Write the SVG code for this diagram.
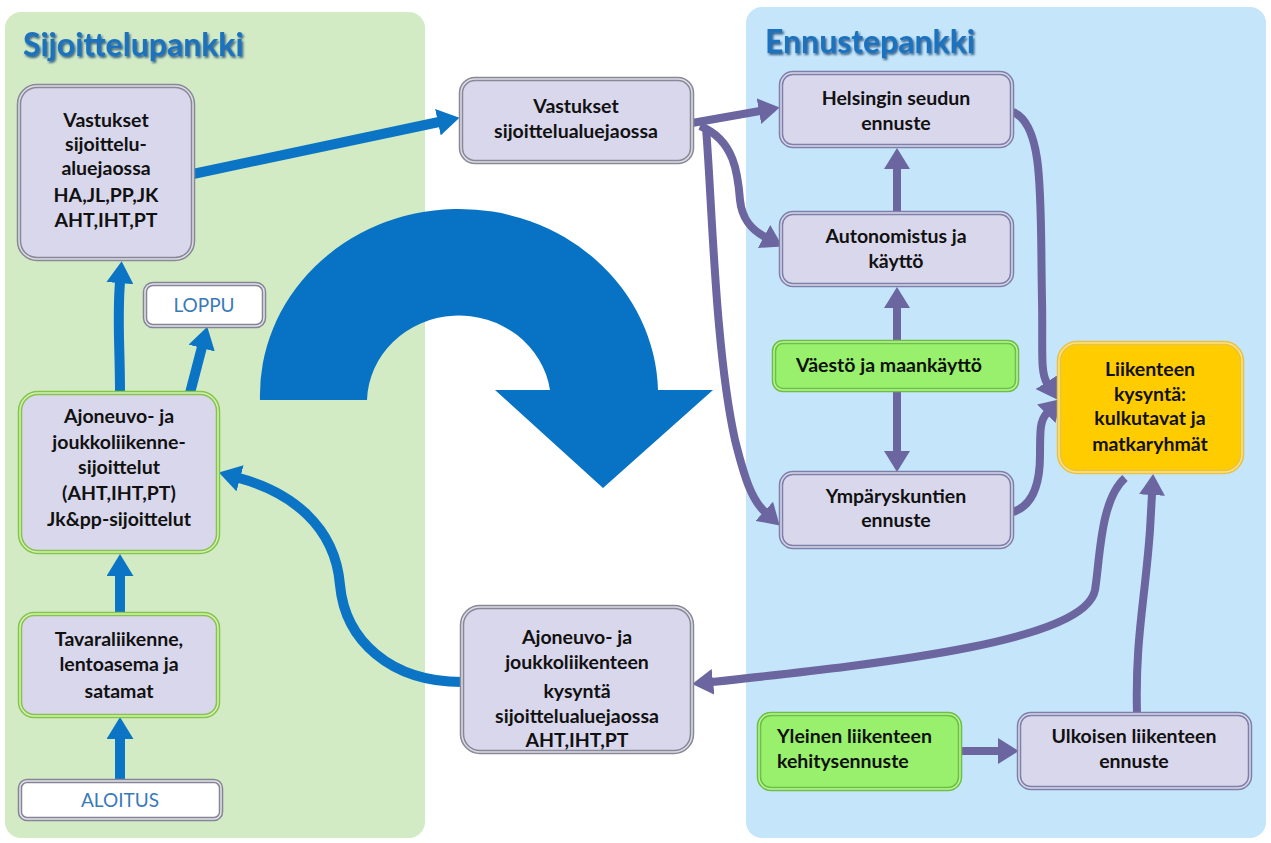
<svg xmlns="http://www.w3.org/2000/svg" width="1271" height="843" viewBox="0 0 1271 843">
<defs>
<style>
.t{font-family:Lato,"Open Sans","DejaVu Sans",sans-serif;font-weight:bold;font-size:19.5px;fill:#111;text-anchor:middle}
.tl{text-anchor:start}
.tb{font-family:Lato,"Open Sans",sans-serif;font-size:19px;fill:#3a7ab8;text-anchor:middle}
.title{font-family:Lato,"Open Sans",sans-serif;font-weight:bold;font-size:32px;fill:#1c72bd}
.o{stroke-width:4.5}
.i{fill:none;stroke-width:1.5}
.lav{fill:#d9d7ec;stroke:#7f80aa}
.lavi{stroke:#d8d8ea}
.gry{fill:#d9d7ec;stroke:#888896}
.gryi{stroke:#dcdce6}
.grn{fill:#d9d7ec;stroke:#86c444}
.grni{stroke:#d4eec0}
.lg{fill:#98f06c;stroke:#6cbf40}
.lgi{stroke:#b8f59a}
.org{fill:#ffcc00;stroke:#e6c24a}
.orgi{stroke:#ffe27a}
.wht{fill:#ffffff;stroke:#858595}
.whti{stroke:#e4e4ec}
.cb{fill:none;stroke:#0b74c4;stroke-width:10}
.cp{fill:none;stroke:#6b65a0;stroke-width:8}
</style>
<marker id="ab" viewBox="0 0 10 10" refX="0.5" refY="5" markerUnits="userSpaceOnUse" markerWidth="22" markerHeight="27" orient="auto" preserveAspectRatio="none"><path d="M0,0 L10,5 L0,10 z" fill="#0b74c4"/></marker>
<marker id="ap" viewBox="0 0 10 10" refX="0.5" refY="5" markerUnits="userSpaceOnUse" markerWidth="21" markerHeight="26" orient="auto" preserveAspectRatio="none"><path d="M0,0 L10,5 L0,10 z" fill="#6b65a0"/></marker>
<filter id="sh" x="-5%" y="-20%" width="110%" height="150%"><feDropShadow dx="1.5" dy="2" stdDeviation="0.8" flood-color="#0a3f70" flood-opacity="0.8"/></filter>
</defs>
<rect width="1271" height="843" fill="#ffffff"/>
<g id="panels">
<rect x="5" y="12" width="420" height="826" rx="16" fill="#d2ebc5"/>
<rect x="746" y="7" width="520" height="831" rx="16" fill="#c4e5fa"/>
<text class="title" x="23" y="56" filter="url(#sh)">Sijoittelupankki</text>
<text class="title" x="765" y="53" filter="url(#sh)">Ennustepankki</text>
</g>
<g id="uturn">
<path d="M260,400 L367,400 A92,87 0 0 1 550,390 L495,390 L603,488 L713,390 L658,390 A199,186 0 0 0 260,400 Z" fill="#0872c4"/>
</g>
<g id="connectors">
<path class="cb" d="M193,174 L439,122" marker-end="url(#ab)"/>
<path class="cb" d="M120,393 C120,345 117,320 120,282" marker-end="url(#ab)"/>
<path class="cb" d="M190,393 L202,347" marker-end="url(#ab)"/>
<path class="cb" d="M120,613 L120,575" marker-end="url(#ab)"/>
<path class="cb" d="M120,781 L120,738" marker-end="url(#ab)"/>
<path class="cb" d="M462,682 C390,682 345,640 340,585 C335,525 290,492 239,478" marker-end="url(#ab)"/>
<path class="cp" d="M692,123 L760,111" marker-end="url(#ap)"/>
<path class="cp" d="M700,126 C735,140 738,175 740,200 C742,220 752,230 765,237" marker-end="url(#ap)"/>
<path class="cp" d="M706,128 C712,200 715,350 735,440 C745,480 752,500 765,512" marker-end="url(#ap)"/>
<path class="cp" d="M897,212 L897,168" marker-end="url(#ap)"/>
<path class="cp" d="M897,342 L897,307" marker-end="url(#ap)"/>
<path class="cp" d="M897,390 L897,452" marker-end="url(#ap)"/>
<path class="cp" d="M1013,112 C1045,125 1040,200 1042,300 C1043,350 1040,372 1047,383" marker-end="url(#ap)"/>
<path class="cp" d="M1013,512 C1035,505 1040,480 1040,455 C1040,430 1040,420 1047,413" marker-end="url(#ap)"/>
<path class="cp" d="M1125,478 C1100,500 1100,560 1095,590 C1085,640 900,662 712,682" marker-end="url(#ap)"/>
<path class="cp" d="M1137,713 C1135,640 1145,600 1150,530 L1152,494" marker-end="url(#ap)"/>
<path class="cp" d="M960,751 L999,751" marker-end="url(#ap)"/>
</g>
<g id="n-vastukset-sij">
<rect class="gry o" x="19" y="86" width="174" height="173" rx="18"/>
<rect class="gryi i" x="19" y="86" width="174" height="173" rx="18"/>
<text class="t" x="106" y="127">Vastukset</text>
<text class="t" x="106" y="151">sijoittelu-</text>
<text class="t" x="106" y="175">aluejaossa</text>
<text class="t" x="106" y="202">HA,JL,PP,JK</text>
<text class="t" x="106" y="227">AHT,IHT,PT</text>
</g>
<g id="n-loppu">
<rect class="wht o" x="145" y="284" width="119" height="42" rx="8"/>
<rect class="whti i" x="145" y="284" width="119" height="42" rx="8"/>
<text class="tb" x="204" y="312">LOPPU</text>
</g>
<g id="n-ajoneuvo-sij">
<rect class="grn o" x="20" y="393" width="198" height="159" rx="18"/>
<rect class="grni i" x="20" y="393" width="198" height="159" rx="18"/>
<text class="t" x="119" y="423">Ajoneuvo- ja</text>
<text class="t" x="119" y="449">joukkoliikenne-</text>
<text class="t" x="119" y="474">sijoittelut</text>
<text class="t" x="119" y="500">(AHT,IHT,PT)</text>
<text class="t" x="119" y="526">Jk&amp;pp-sijoittelut</text>
</g>
<g id="n-tavara">
<rect class="grn o" x="20" y="614" width="198" height="102" rx="14"/>
<rect class="grni i" x="20" y="614" width="198" height="102" rx="14"/>
<text class="t" x="119" y="646">Tavaraliikenne,</text>
<text class="t" x="119" y="671">lentoasema ja</text>
<text class="t" x="119" y="698">satamat</text>
</g>
<g id="n-aloitus">
<rect class="wht o" x="20" y="781" width="201" height="38" rx="7"/>
<rect class="whti i" x="20" y="781" width="201" height="38" rx="7"/>
<text class="tb" x="120" y="807">ALOITUS</text>
</g>
<g id="n-vastukset">
<rect class="gry o" x="461" y="79" width="231" height="83" rx="14"/>
<rect class="gryi i" x="461" y="79" width="231" height="83" rx="14"/>
<text class="t" x="576" y="113">Vastukset</text>
<text class="t" x="576" y="138">sijoittelualuejaossa</text>
</g>
<g id="n-kysynta">
<rect class="gry o" x="462" y="607" width="230" height="145" rx="18"/>
<rect class="gryi i" x="462" y="607" width="230" height="145" rx="18"/>
<text class="t" x="577" y="644">Ajoneuvo- ja</text>
<text class="t" x="577" y="669">joukkoliikenteen</text>
<text class="t" x="577" y="698">kysyntä</text>
<text class="t" x="577" y="723">sijoittelualuejaossa</text>
<text class="t" x="577" y="747">AHT,IHT,PT</text>
</g>
<g id="n-helsinki">
<rect class="lav o" x="781" y="73" width="231" height="73" rx="12"/>
<rect class="lavi i" x="781" y="73" width="231" height="73" rx="12"/>
<text class="t" x="896" y="105">Helsingin seudun</text>
<text class="t" x="896" y="130">ennuste</text>
</g>
<g id="n-autonomistus">
<rect class="lav o" x="781" y="213" width="231" height="72" rx="12"/>
<rect class="lavi i" x="781" y="213" width="231" height="72" rx="12"/>
<text class="t" x="896" y="243">Autonomistus ja</text>
<text class="t" x="896" y="268">käyttö</text>
</g>
<g id="n-vaesto">
<rect class="lg o" x="774" y="342" width="243" height="48" rx="9"/>
<rect class="lgi i" x="774" y="342" width="243" height="48" rx="9"/>
<text class="t" x="889" y="372">Väestö ja maankäyttö</text>
</g>
<g id="n-ymparys">
<rect class="lav o" x="781" y="473" width="231" height="74" rx="12"/>
<rect class="lavi i" x="781" y="473" width="231" height="74" rx="12"/>
<text class="t" x="896" y="503">Ympäryskuntien</text>
<text class="t" x="896" y="527">ennuste</text>
</g>
<g id="n-liikenteen">
<rect class="org o" x="1059" y="343" width="183" height="129" rx="18"/>
<rect class="orgi i" x="1059" y="343" width="183" height="129" rx="18"/>
<text class="t" x="1150" y="376">Liikenteen</text>
<text class="t" x="1150" y="401">kysyntä:</text>
<text class="t" x="1150" y="425">kulkutavat ja</text>
<text class="t" x="1150" y="451">matkaryhmät</text>
</g>
<g id="n-yleinen">
<rect class="lg o" x="759" y="714" width="201" height="75" rx="12"/>
<rect class="lgi i" x="759" y="714" width="201" height="75" rx="12"/>
<text class="t tl" x="777" y="743">Yleinen liikenteen</text>
<text class="t tl" x="777" y="768">kehitysennuste</text>
</g>
<g id="n-ulkoisen">
<rect class="lav o" x="1019" y="714" width="231" height="74" rx="12"/>
<rect class="lavi i" x="1019" y="714" width="231" height="74" rx="12"/>
<text class="t" x="1134" y="743">Ulkoisen liikenteen</text>
<text class="t" x="1134" y="768">ennuste</text>
</g>
</svg>
